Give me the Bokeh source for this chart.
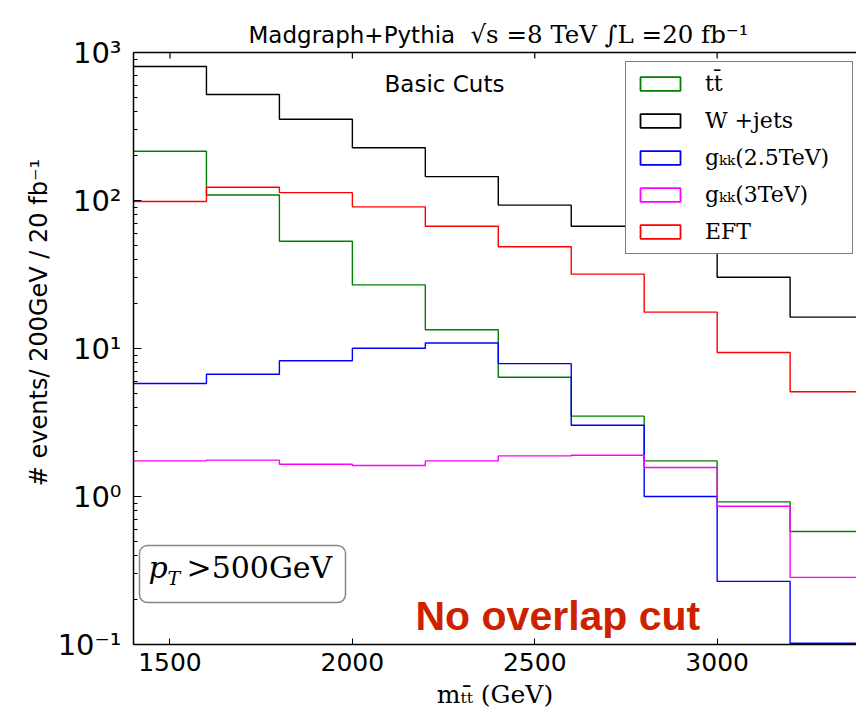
from bokeh.plotting import figure
from bokeh.models import (Range1d, Legend, LegendItem, Label, FixedTicker, Span, BoxAnnotation)
from bokeh.embed import file_html
from bokeh.resources import INLINE

# ---------------- data ----------------
bin_edges = [1400, 1600, 1800, 2000, 2200, 2400, 2600, 2800, 3000, 3200, 3400]
tt_vals    = [215, 109, 53, 26.9, 13.4, 6.4, 3.49, 1.74, 0.92, 0.58]
wjets_vals = [804, 520, 354, 227, 145, 93, 67, 50, 30.3, 16.3]
gkk25_vals = [5.8, 6.7, 8.26, 10.05, 10.9, 7.9, 3.03, 1.0, 0.267, 0.102]
gkk3_vals  = [1.74, 1.76, 1.65, 1.62, 1.74, 1.88, 1.9, 1.57, 0.86, 0.284]
eft_vals   = [98.5, 123, 113, 90.6, 67, 48.7, 31.8, 17.6, 9.4, 5.1]

series_names = ["tt\u0304", "W +jets", "g\u2096\u2096(2.5TeV)", "g\u2096\u2096(3TeV)", "EFT"]
series_vals = [tt_vals, wjets_vals, gkk25_vals, gkk3_vals, eft_vals]
series_colors = ["#008000", "#000000", "#0000ff", "#ff00ff", "#ff0000"]

y_tick_values = [0.1, 1, 10, 100, 1000]
y_tick_labels = ["10\u207b\u00b9", "10\u2070", "10\u00b9", "10\u00b2", "10\u00b3"]
x_tick_values = [1500, 2000, 2500, 3000]

X0, X1 = 1400, 3382
Y0, YTOP = 0.1, 1000          # axis box in data units
PX_PER_DEC = 148.0
FRAME_H = 644
Y1 = 10 ** (-1 + FRAME_H / PX_PER_DEC)   # frame extends above the axis box for the title

p = figure(width=856, height=717, output_backend="svg", toolbar_location=None,
           x_range=Range1d(X0, X1), y_range=Range1d(Y0, Y1), y_axis_type="log",
           title_location=None,
           min_border_left=133, min_border_right=0, min_border_top=0, min_border_bottom=73)
p.outline_line_color = None
p.xgrid.visible = False
p.ygrid.visible = False
p.background_fill_color = "white"
p.border_fill_color = "white"

def xd(px):
    return X0 + (px - 133) * (X1 - X0) / (856 - 133)

def yd(py):
    return 10 ** ((FRAME_H - py) / PX_PER_DEC - 1)

legend_items = []
for name, vals, col in zip(series_names, series_vals, series_colors):
    ys = list(vals) + [vals[-1]]
    p.step(bin_edges, ys, mode="after", line_color=col, line_width=1.4)
    dummy = p.quad(left=[0], right=[1], bottom=[0.01], top=[0.02],
                   fill_color=None, line_color=col, line_width=1.8)
    legend_items.append(LegendItem(label=name, renderers=[dummy]))

# top spine with inward ticks
p.add_layout(Span(location=YTOP, dimension="width", line_color="black", line_width=1.5))
p.segment(x0=x_tick_values, y0=[YTOP] * len(x_tick_values), x1=x_tick_values,
          y1=[YTOP * 10 ** (-6 / PX_PER_DEC)] * len(x_tick_values),
          line_color="black", line_width=1.2)

# axes styling
xa = p.xaxis[0]
xa.ticker = FixedTicker(ticks=x_tick_values)
xa.major_tick_in = 6
xa.major_tick_out = 0
xa.minor_tick_line_color = None
xa.axis_line_width = 1.5
xa.axis_line_color = "black"
xa.major_tick_line_color = "black"
xa.major_label_text_color = "black"
xa.major_label_text_font = "DejaVu Sans"
xa.major_label_text_font_size = "25px"
xa.major_label_standoff = 8
xa.axis_label = "m\u209c\u209c\u0304 (GeV)"
xa.axis_label_text_font = "DejaVu Serif"
xa.axis_label_text_font_style = "normal"
xa.axis_label_text_font_size = "25px"
xa.axis_label_text_color = "black"
xa.axis_label_standoff = 6

ya = p.yaxis[0]
ya.bounds = (Y0, YTOP)
ya.ticker.desired_num_ticks = 5
ya.major_label_overrides = dict(zip(y_tick_values, y_tick_labels))
ya.major_tick_in = 8
ya.major_tick_out = 0
ya.minor_tick_in = 4
ya.minor_tick_out = 0
ya.axis_line_width = 1.5
ya.axis_line_color = "black"
ya.major_tick_line_color = "black"
ya.minor_tick_line_color = "black"
ya.major_label_text_color = "black"
ya.major_label_text_font = "DejaVu Sans"
ya.major_label_text_font_size = "29px"
ya.major_label_standoff = 12
ya.axis_label = "# events/ 200GeV / 20 fb\u207b\u00b9"
ya.axis_label_text_font = "DejaVu Sans"
ya.axis_label_text_font_style = "normal"
ya.axis_label_text_font_size = "24px"
ya.axis_label_text_color = "black"
ya.axis_label_standoff = 2

legend = Legend(items=legend_items, location=(492, 390), glyph_width=50, glyph_height=17,
                label_standoff=20, spacing=12, padding=9, margin=0, label_width=138,
                label_text_font="DejaVu Serif", label_text_font_size="22px",
                label_text_color="black",
                border_line_color="black", border_line_width=1.5,
                background_fill_color="white", background_fill_alpha=1.0)
p.add_layout(legend)

# annotations
p.add_layout(Label(x=xd(248), y=yd(34), text="Madgraph+Pythia", text_font="DejaVu Sans",
                   text_font_size="23px", text_color="black",
                   text_baseline="alphabetic", text_align="left"))
p.add_layout(Label(x=xd(470), y=yd(34), text="\u221as =8 TeV  \u222bL =20 fb\u207b\u00b9",
                   text_font="DejaVu Serif", text_font_size="24.5px", text_color="black",
                   text_baseline="alphabetic", text_align="left"))
p.add_layout(Label(x=xd(444), y=yd(83), text="Basic Cuts", text_font="DejaVu Sans",
                   text_font_size="23px", text_color="black",
                   text_baseline="alphabetic", text_align="center"))
p.add_layout(Label(x=xd(415), y=yd(615), text="No overlap cut", text_font="Liberation Sans",
                   text_font_style="bold", text_font_size="41px", text_color="#cc2200",
                   text_baseline="alphabetic", text_align="left"))

p.add_layout(BoxAnnotation(left=xd(139), right=xd(345), top=yd(545), bottom=yd(602),
                           fill_color="white", fill_alpha=1.0, line_color="#888888",
                           line_alpha=1.0, line_width=1.5, border_radius=8))
p.add_layout(Label(x=xd(148), y=yd(567), text="p", text_font="DejaVu Serif",
                   text_font_style="italic", text_font_size="30px", text_color="black",
                   text_baseline="middle", text_align="left"))
p.add_layout(Label(x=xd(167), y=yd(577), text="T", text_font="DejaVu Serif",
                   text_font_style="italic", text_font_size="19px", text_color="black",
                   text_baseline="middle", text_align="left"))
p.add_layout(Label(x=xd(186), y=yd(567), text=">500GeV", text_font="DejaVu Serif",
                   text_font_size="30px", text_color="black",
                   text_baseline="middle", text_align="left"))

with open("out.html", "w") as f:
    f.write(file_html(p, INLINE))
